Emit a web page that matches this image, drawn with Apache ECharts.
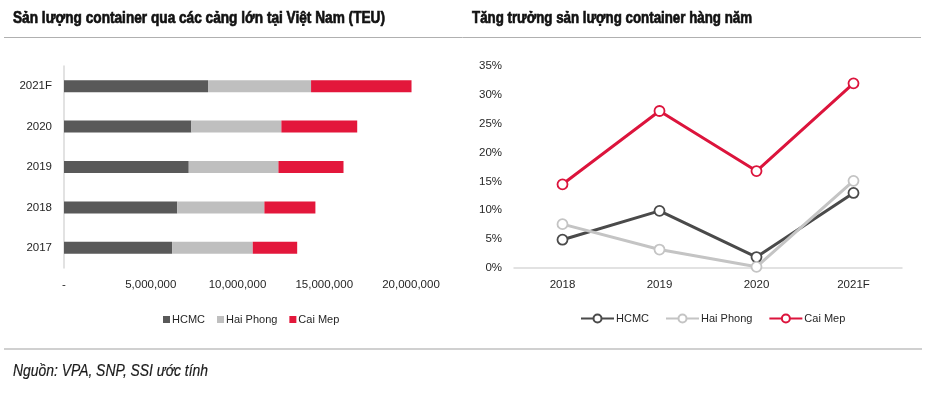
<!DOCTYPE html>
<html>
<head>
<meta charset="utf-8">
<script src="https://cdn.jsdelivr.net/npm/echarts@6/dist/echarts.min.js"></script>
<style>
html,body{margin:0;padding:0;background:#fff;}
#c{width:933px;height:393px;}
</style>
</head>
<body>
<div id="c"></div>
<script>
// ---- Data ----
var barYears = ['2017', '2018', '2019', '2020', '2021F'];
var barHCMC = [6230000, 6520000, 7190000, 7340000, 8300000];
var barHaiPhong = [4650000, 5030000, 5170000, 5190000, 5940000];
var barCaiMep = [2560000, 2940000, 3750000, 4370000, 5790000];
var barTicks = [0, 5000000, 10000000, 15000000, 20000000];

var lineYears = ['2018', '2019', '2020', '2021F'];
var growthHCMC = [0.049, 0.099, 0.019, 0.130];
var growthHaiPhong = [0.076, 0.032, 0.002, 0.151];
var growthCaiMep = [0.145, 0.272, 0.168, 0.320];

var titleLeft = 'Sản lượng container qua các cảng lớn tại Việt Nam (TEU)';
var titleRight = 'Tăng trưởng sản lượng container hàng năm';
var sourceText = 'Nguồn: VPA, SNP, SSI ước tính';

// ---- Styles ----
var FONT = '"Liberation Sans", Arial, sans-serif';
var cDark = '#595959', cLight = '#bfbfbf', cRed = '#e3173b';
var lDark = '#4a4a4a', lLight = '#c4c4c4', lRed = '#dc143c';
var labelStyle = { fontFamily: FONT, fontSize: 11.5, color: '#262626' };

function fmtNum(v) {
  if (v === 0) return '-';
  return String(v).replace(/\B(?=(\d{3})+(?!\d))/g, ',');
}

// measure to condense text like Arial Narrow
var mctx = document.createElement('canvas').getContext('2d');
function textW(str, font) { mctx.font = font; return mctx.measureText(str).width; }
function narrowText(str, x, y, size, weight, style, color, targetW, strokeW) {
  var w = textW(str, style + ' ' + weight + ' ' + size + 'px "Liberation Sans"');
  var st = { text: str, fontFamily: FONT, fontSize: size, fontWeight: weight, fontStyle: style,
             fill: color, textVerticalAlign: 'middle', textAlign: 'left' };
  if (strokeW) { st.stroke = color; st.lineWidth = strokeW; }
  return { type: 'text', x: x, y: y, scaleX: targetW / w, scaleY: 1, silent: true, style: st };
}

var chart = echarts.init(document.getElementById('c'), null, { renderer: 'canvas' });

var option = {
  backgroundColor: '#fff',
  animation: false,
  graphic: [
    narrowText(titleLeft, 13, 18, 17, 'bold', 'normal', '#111', 372, 0.7),
    narrowText(titleRight, 472, 18, 17, 'bold', 'normal', '#111', 280, 0.7),
    narrowText(sourceText, 13, 371, 16.5, 'normal', 'italic', '#1a1a1a', 195, 0.2),
    { type: 'line', silent: true, shape: { x1: 4, y1: 37.5, x2: 921, y2: 37.5 }, style: { stroke: '#b0b0b0', lineWidth: 1 } },
    { type: 'line', silent: true, shape: { x1: 4, y1: 349, x2: 922, y2: 349 }, style: { stroke: '#d0d0d0', lineWidth: 2 } }
  ],
  legend: [
    {
      left: 158, top: 309, itemWidth: 7, itemHeight: 7, itemGap: 12, icon: 'rect',
      textStyle: { fontFamily: FONT, fontSize: 11, color: '#262626', padding: [0, 0, 0, -3] },
      data: ['HCMC', 'Hai Phong', 'Cai Mep'],
      selectedMode: false
    },
    {
      left: 575, top: 308, itemWidth: 33, itemHeight: 10, itemGap: 16,
      textStyle: { fontFamily: FONT, fontSize: 11, color: '#262626', padding: [0, 0, 0, -3] },
      data: ['HCMC_g', 'Hai Phong_g', 'Cai Mep_g'],
      formatter: function (n) { return n.replace('_g', ''); },
      selectedMode: false
    }
  ],
  grid: [
    { left: 64, top: 66, width: 347, height: 202 },
    { left: 514, top: 66, width: 388, height: 202 }
  ],
  xAxis: [
    {
      gridIndex: 0, type: 'value', min: barTicks[0], max: barTicks[barTicks.length - 1], interval: 5000000,
      axisLine: { show: false }, axisTick: { show: false }, splitLine: { show: false },
      axisLabel: Object.assign({ margin: 11, formatter: fmtNum }, labelStyle)
    },
    {
      gridIndex: 1, type: 'category', data: lineYears, boundaryGap: true,
      axisLine: { show: true, lineStyle: { color: '#d9d9d9', width: 1.5 } },
      axisTick: { show: false },
      axisLabel: Object.assign({ margin: 11 }, labelStyle)
    }
  ],
  yAxis: [
    {
      gridIndex: 0, type: 'category', data: barYears,
      axisLine: { show: true, lineStyle: { color: '#d9d9d9', width: 1.5 } },
      axisTick: { show: false },
      axisLabel: Object.assign({ margin: 12 }, labelStyle)
    },
    {
      gridIndex: 1, type: 'value', min: 0, max: 0.35, interval: 0.05,
      axisLine: { show: false }, axisTick: { show: false }, splitLine: { show: false },
      axisLabel: Object.assign({ margin: 12, formatter: function (v) { return Math.round(v * 100) + '%'; } }, labelStyle)
    }
  ],
  series: [
    { name: 'HCMC', type: 'bar', stack: 'teu', xAxisIndex: 0, yAxisIndex: 0, barWidth: 12, clip: false, data: barHCMC, itemStyle: { color: cDark } },
    { name: 'Hai Phong', type: 'bar', stack: 'teu', xAxisIndex: 0, yAxisIndex: 0, barWidth: 12, clip: false, data: barHaiPhong, itemStyle: { color: cLight } },
    { name: 'Cai Mep', type: 'bar', stack: 'teu', xAxisIndex: 0, yAxisIndex: 0, barWidth: 12, clip: false, data: barCaiMep, itemStyle: { color: cRed } },
    {
      name: 'HCMC_g', type: 'line', xAxisIndex: 1, yAxisIndex: 1, data: growthHCMC,
      symbol: 'circle', symbolSize: 10,
      lineStyle: { color: lDark, width: 3 },
      itemStyle: { color: '#fff', borderColor: lDark, borderWidth: 1.8 }
    },
    {
      name: 'Hai Phong_g', type: 'line', xAxisIndex: 1, yAxisIndex: 1, data: growthHaiPhong,
      symbol: 'circle', symbolSize: 10,
      lineStyle: { color: lLight, width: 3 },
      itemStyle: { color: '#fff', borderColor: lLight, borderWidth: 1.8 }
    },
    {
      name: 'Cai Mep_g', type: 'line', xAxisIndex: 1, yAxisIndex: 1, data: growthCaiMep,
      symbol: 'circle', symbolSize: 10,
      lineStyle: { color: lRed, width: 3 },
      itemStyle: { color: '#fff', borderColor: lRed, borderWidth: 1.8 }
    }
  ]
};
chart.setOption(option);
</script>
</body>
</html>
